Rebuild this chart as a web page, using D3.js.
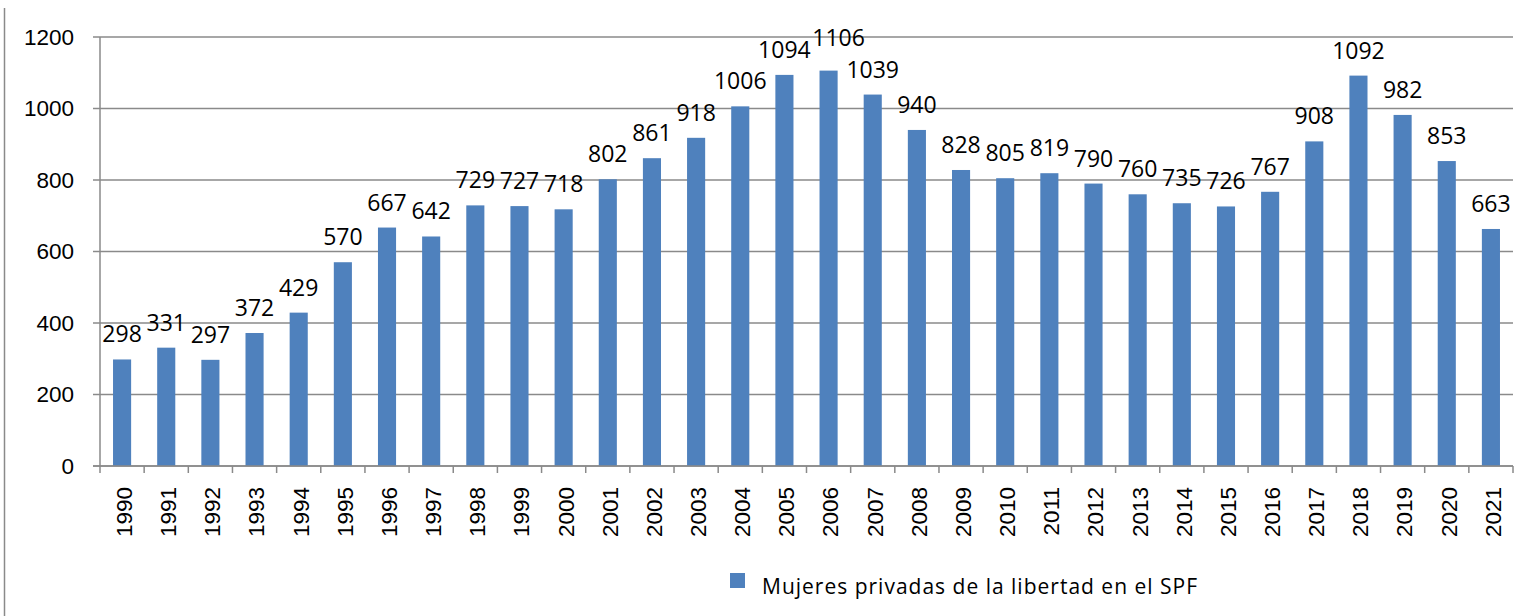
<!DOCTYPE html>
<html>
<head>
<meta charset="utf-8">
<script src="https://cdn.jsdelivr.net/npm/d3@7"></script>
<style>
    body { margin: 0; background: #fff; }
    svg { display: block; }
</style>
</head>
<body>
<div id="chart"></div>
<script>
// datos
const years = ["1990", "1991", "1992", "1993", "1994", "1995", "1996", "1997", "1998", "1999",
    "2000", "2001", "2002", "2003", "2004", "2005", "2006", "2007", "2008", "2009", "2010",
    "2011", "2012", "2013", "2014", "2015", "2016", "2017", "2018", "2019", "2020", "2021"];
const mujeres = [298, 331, 297, 372, 429, 570, 667, 642, 729, 727,
    718, 802, 861, 918, 1006, 1094, 1106, 1039, 940, 828, 805,
    819, 790, 760, 735, 726, 767, 908, 1092, 982, 853, 663];
const yTicks = [0, 200, 400, 600, 800, 1000, 1200];
const seriesName = "Mujeres privadas de la libertad en el SPF";

const width = 1539, height = 616;
const plot = { left: 100, right: 1513, top: 37, bottom: 466 };
const gridColor = "#8a8a8a";
const barColor = "#4f81bd";
// la etiqueta de 2006 está desplazada para no pisar la de 2005
const labelNudge = { "2006": [10, -8] };

const svg = d3.select("#chart").append("svg")
    .attr("width", width)
    .attr("height", height);

// borde izquierdo del cuadro
svg.append("line")
    .attr("x1", 4.5).attr("x2", 4.5)
    .attr("y1", 8).attr("y2", height)
    .attr("stroke", gridColor).attr("stroke-width", 1.5);

const x = d3.scaleBand()
    .domain(years)
    .range([plot.left, plot.right])
    .paddingInner(0.59)
    .paddingOuter(0.295);

const y = d3.scaleLinear()
    .domain([0, 1200])
    .range([plot.bottom, plot.top]);

// etiquetas eje y
const gy = svg.append("g")
    .attr("transform", "translate(" + (plot.left - 7) + ",0)")
    .call(d3.axisLeft(y).tickValues(yTicks).tickSize(0).tickPadding(19).tickFormat(d3.format("d")));
gy.select(".domain").remove();
gy.selectAll("text")
    .attr("font-family", "'Liberation Sans', Arial, sans-serif")
    .attr("font-size", "22.5px")
    .attr("fill", "#000");

// grilla horizontal
svg.append("g").selectAll("line")
    .data(yTicks)
    .enter().append("line")
    .attr("x1", plot.left - 7).attr("x2", plot.right)
    .attr("y1", d => y(d)).attr("y2", d => y(d))
    .attr("stroke", gridColor).attr("stroke-width", 1.5);

// eje vertical
svg.append("line")
    .attr("x1", plot.left).attr("x2", plot.left)
    .attr("y1", plot.top).attr("y2", plot.bottom)
    .attr("stroke", gridColor).attr("stroke-width", 1.5);

// marcas del eje x en los límites de cada categoría
const step = x.step();
const bounds = d3.range(years.length + 1).map(i => plot.left + i * step);
svg.append("g").selectAll("line")
    .data(bounds)
    .enter().append("line")
    .attr("x1", d => d).attr("x2", d => d)
    .attr("y1", plot.bottom).attr("y2", plot.bottom + 7)
    .attr("stroke", gridColor).attr("stroke-width", 1.5);

// barras
svg.append("g").selectAll("rect")
    .data(mujeres)
    .enter().append("rect")
    .attr("x", (d, i) => x(years[i]))
    .attr("width", x.bandwidth())
    .attr("y", d => y(d))
    .attr("height", d => plot.bottom - y(d))
    .attr("fill", barColor);

// etiquetas de datos
svg.append("g").selectAll("text")
    .data(mujeres)
    .enter().append("text")
    .attr("x", (d, i) => x(years[i]) + x.bandwidth() / 2 + (labelNudge[years[i]] || [0, 0])[0])
    .attr("y", (d, i) => y(d) - 17 + (labelNudge[years[i]] || [0, 0])[1])
    .attr("text-anchor", "middle")
    .attr("font-family", "'Open Sans', sans-serif")
    .attr("font-size", "23px")
    .attr("fill", "#000")
    .text(d => d);

// etiquetas eje x (verticales)
svg.append("g").selectAll("text")
    .data(years)
    .enter().append("text")
    .attr("transform", d => "translate(" + (x(d) + x.bandwidth() / 2 + 2) + "," + 487 + ") rotate(-90)")
    .attr("text-anchor", "end")
    .attr("dy", "0.35em")
    .attr("font-family", "'Liberation Sans', Arial, sans-serif")
    .attr("font-size", "22.5px")
    .attr("fill", "#000")
    .text(d => d);

// línea del eje x sobre las barras
svg.append("line")
    .attr("x1", plot.left - 7).attr("x2", plot.right)
    .attr("y1", plot.bottom).attr("y2", plot.bottom)
    .attr("stroke", gridColor).attr("stroke-width", 1.5);

// leyenda
svg.append("rect")
    .attr("x", 730).attr("y", 573)
    .attr("width", 15).attr("height", 15)
    .attr("fill", barColor);
svg.append("text")
    .attr("x", 762).attr("y", 594)
    .attr("font-family", "'Open Sans', sans-serif")
    .attr("font-size", "21px")
    .attr("textLength", 435)
    .attr("lengthAdjust", "spacing")
    .attr("fill", "#000")
    .text(seriesName);
</script>
</body>
</html>
